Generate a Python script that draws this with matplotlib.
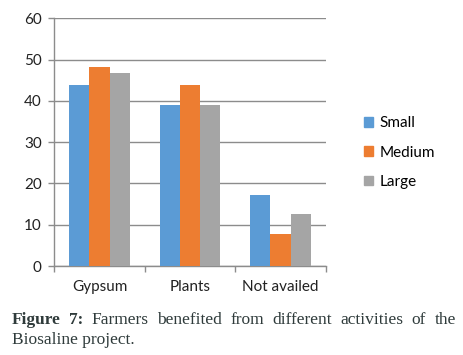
import numpy as np
import matplotlib
matplotlib.use('Agg')
import matplotlib.pyplot as plt
from matplotlib.patches import Patch

categories = ['Gypsum', 'Plants', 'Not availed']
series_names = ['Small', 'Medium', 'Large']
small = [43.8, 39.0, 17.2]
medium = [48.3, 43.8, 7.7]
large = [46.9, 39.0, 12.6]
colors = ['#5b9bd5', '#ed7d31', '#a5a5a5']
yticks = [0, 10, 20, 30, 40, 50, 60]

plt.rcParams['font.family'] = ['Lato', 'DejaVu Sans']

fig = plt.figure(figsize=(4.64, 3.55), dpi=100)
ax = fig.add_axes([0.117, 0.2507, 0.585, 0.6973])

x = np.arange(len(categories))
w = 0.222
for i, (vals, c) in enumerate(zip([small, medium, large], colors)):
    ax.bar(x + (i - 1) * w, vals, width=w, color=c, zorder=3)

ax.set_xlim(-0.5, 2.5)
ax.set_ylim(0, 60)
ax.set_yticks(yticks)
ax.yaxis.grid(True, color='#8c8c8c', linewidth=1.0, zorder=0)
for s in ['top', 'right']:
    ax.spines[s].set_visible(False)
for s in ['left', 'bottom']:
    ax.spines[s].set_color('#8c8c8c')
    ax.spines[s].set_linewidth(1.0)

ax.set_xticks(x)
ax.set_xticklabels(categories, fontsize=11, color='#222222')
ax.tick_params(axis='x', length=0, pad=10)
ax.set_xticks([-0.5, 0.5, 1.5, 2.5], minor=True)
ax.tick_params(axis='x', which='minor', length=4, color='#8c8c8c', width=1)
ax.tick_params(axis='y', length=4, color='#8c8c8c', width=1, labelsize=11,
               labelcolor='#222222', pad=5)

handles = [Patch(color=c) for c in colors]
fig.legend(handles, series_names, loc='center left', bbox_to_anchor=(0.755, 0.57),
           frameon=False, fontsize=11, handlelength=0.6, handleheight=0.6,
           handletextpad=0.4, labelspacing=1.0)

# justified caption
cap_color = '#2f3b3b'
line1 = ['Figure', '7:', 'Farmers', 'benefited', 'from', 'different', 'activities', 'of', 'the']
bold = [True, True] + [False] * 7
x0, x1 = 12 / 464, 456 / 464
y1 = 1 - 320 / 355
fig.canvas.draw()
r = fig.canvas.get_renderer()
texts = []
for word, b in zip(line1, bold):
    t = fig.text(0, y1, word, fontsize=12.5, family='Liberation Serif', color=cap_color,
                 fontweight='bold' if b else 'normal', va='center', ha='left')
    texts.append(t)
widths = [t.get_window_extent(r).width / fig.bbox.width for t in texts]
gap = (x1 - x0 - sum(widths)) / (len(texts) - 1)
pos = x0
for t, wd in zip(texts, widths):
    t.set_x(pos)
    pos += wd + gap
fig.text(x0, 1 - 340 / 355, 'Biosaline project.', fontsize=12.5, family='Liberation Serif',
         color=cap_color, va='center', ha='left')

fig.savefig('out.png', dpi=100)
